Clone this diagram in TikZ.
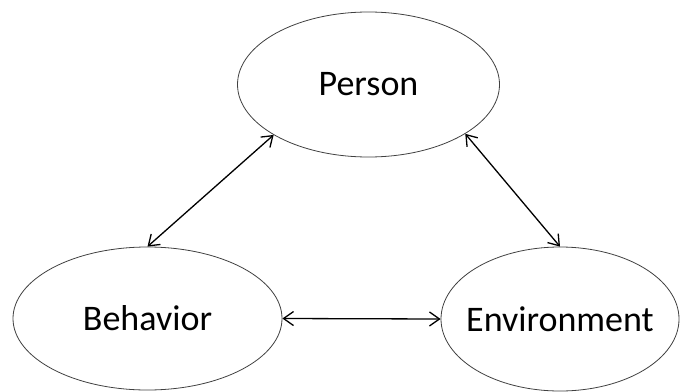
\documentclass[tikz,border=0pt]{standalone}
\usepackage{fontspec}
\setmainfont{Carlito}
\usetikzlibrary{shapes.geometric,arrows.meta}
% label text that does not widen its ellipse
\newcommand{\ovaltext}[1]{\raisebox{-3pt}{\makebox[0pt]{#1}}}
\begin{document}
\begin{tikzpicture}[x=1pt,y=-1pt,
  oval/.style={ellipse,draw=black!75,line width=0.8pt,inner sep=0pt,
    font=\fontsize{36}{43}\selectfont},
  link/.style={line width=1.3pt,
    {Straight Barb[length=10pt,width=14pt]}-{Straight Barb[length=10pt,width=14pt]}}]
  \useasboundingbox (0,0) rectangle (680,391);
  \node[oval,minimum width=262pt,minimum height=145pt] (person) at (368.5,84.5) {\ovaltext{Person}};
  \node[oval,minimum width=269pt,minimum height=143pt] (behavior) at (147.5,318.5) {\ovaltext{Behavior}};
  \node[oval,minimum width=238pt,minimum height=144pt] (environment) at (560,319) {\ovaltext{Environment}};
  \draw[link] (behavior.north) -- (person.-152);
  \draw[link] (person.-27) -- (environment.north);
  \draw[link] (behavior.east) -- (environment.west);
\end{tikzpicture}
\end{document}
